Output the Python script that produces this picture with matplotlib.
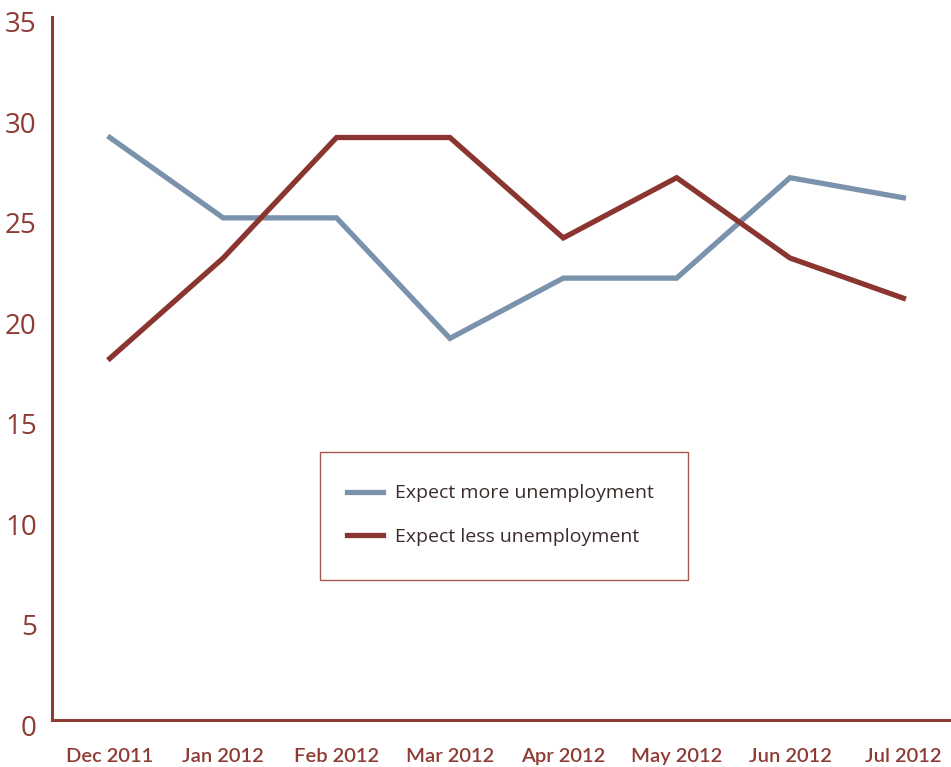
import matplotlib
matplotlib.use("Agg")
import matplotlib.pyplot as plt
import matplotlib.transforms as mtransforms
from matplotlib.patches import Rectangle

months = ["Dec 2011", "Jan 2012", "Feb 2012", "Mar 2012", "Apr 2012", "May 2012", "Jun 2012", "Jul 2012"]
more_unemployment = [29, 25, 25, 19, 22, 22, 27, 26]
less_unemployment = [18, 23, 29, 29, 24, 27, 23, 21]
y_ticks = [0, 5, 10, 15, 20, 25, 30, 35]

AXIS_COLOR = "#8E3B34"
LABEL_COLOR = "#8E3B34"
BLUE = "#7A92AC"
RED = "#8A3530"

fig = plt.figure(figsize=(9.51, 7.67), dpi=100)
W, H = 951, 767
ax = fig.add_axes([52 / W, (H - 720) / H, (W - 52) / W, (720 - 17) / H])

x = list(range(len(months)))
ax.plot(x, more_unemployment, color=BLUE, lw=3.8, solid_joinstyle="miter", label="Expect more unemployment")
ax.plot(x, less_unemployment, color=RED, lw=3.8, solid_joinstyle="miter", label="Expect less unemployment")

ax.set_xlim(-0.51, 7.42)
ax.set_ylim(0, 35)
ax.set_xticks(x)
ax.set_xticklabels(months, fontfamily="Lato", fontweight="semibold", fontsize=14.5, color=LABEL_COLOR)
ax.set_yticks(y_ticks)
ax.set_yticklabels([str(v) for v in y_ticks], fontfamily="Open Sans", fontsize=20, color=LABEL_COLOR)
ax.tick_params(axis="both", length=0)
ax.tick_params(axis="y", pad=11)
ax.tick_params(axis="x", pad=20)

off = mtransforms.ScaledTranslation(0, -5 / 100, fig.dpi_scale_trans)
for lbl in ax.get_yticklabels():
    lbl.set_transform(lbl.get_transform() + off)

for s in ["top", "right"]:
    ax.spines[s].set_visible(False)
for s in ["left", "bottom"]:
    ax.spines[s].set_color(AXIS_COLOR)
    ax.spines[s].set_linewidth(2.2)

# legend frame
rect = Rectangle((320 / W, 1 - 580 / H), (688 - 320) / W, (580 - 452) / H,
                 transform=fig.transFigure, fill=False, edgecolor="#A8574C", lw=1.0)
fig.patches.append(rect)
leg = fig.legend(loc="center", bbox_to_anchor=(500 / W, 1 - 515 / H), frameon=False,
                 prop={"family": "Open Sans", "size": 14}, handlelength=1.85,
                 handletextpad=0.62, labelspacing=1.29, borderpad=0)
for t in leg.get_texts():
    t.set_color("#3B2B2B")

fig.savefig("out.png", dpi=100)
